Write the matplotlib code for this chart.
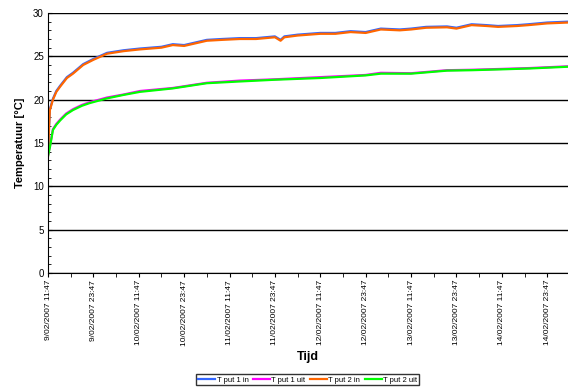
import matplotlib
matplotlib.use("Agg")
import matplotlib.pyplot as plt
import matplotlib.ticker as mticker
import numpy as np

plt.rcParams.update({"font.family": ["Liberation Sans", "DejaVu Sans"]})

# hours since 9/02/2007 11:47
T_IN = [0, 0.3, 0.5, 1.3, 2.2, 3.2, 5, 6.6, 9.3, 12, 15.6, 20, 24.3, 30, 33, 36,
        40, 42, 46, 50.7, 55, 60, 61.5, 62.5, 66, 72, 76, 80, 84, 88, 93, 96,
        100, 105.5, 108, 112, 116, 119, 124, 127, 132, 137.5]
PUT2_IN = [13.5, 17.0, 18.8, 20.0, 20.9, 21.5, 22.5, 23.0, 24.0, 24.6, 25.3, 25.6,
           25.8, 26.0, 26.3, 26.2, 26.6, 26.8, 26.9, 27.0, 27.0, 27.2, 26.8, 27.2,
           27.4, 27.6, 27.6, 27.8, 27.7, 28.1, 28.0, 28.1, 28.3, 28.35, 28.2, 28.6,
           28.5, 28.4, 28.5, 28.6, 28.8, 28.9]
PUT1_IN = [13.6, 17.1, 18.9, 20.1, 21.0, 21.6, 22.6, 23.1, 24.1, 24.7, 25.4, 25.7,
           25.9, 26.1, 26.4, 26.3, 26.7, 26.9, 27.0, 27.1, 27.1, 27.3, 26.9, 27.3,
           27.5, 27.7, 27.7, 27.9, 27.8, 28.2, 28.1, 28.2, 28.4, 28.45, 28.3, 28.7,
           28.6, 28.5, 28.6, 28.7, 28.9, 29.0]

T_UIT = [0, 0.5, 1.3, 2.2, 3.2, 4.8, 6.6, 9, 11, 15.6, 20, 24.3, 33, 42, 50.7,
         60, 72, 84, 88, 96, 105.5, 112, 120, 127.4, 137.5]
PUT2_UIT = [13.5, 14.5, 16.5, 17.1, 17.6, 18.3, 18.8, 19.3, 19.6, 20.15, 20.55,
            20.9, 21.3, 21.9, 22.1, 22.3, 22.5, 22.8, 23.0, 23.0, 23.35, 23.4,
            23.5, 23.6, 23.8]
PUT1_UIT = [13.6, 14.6, 16.6, 17.2, 17.7, 18.4, 18.9, 19.4, 19.7, 20.25, 20.6,
            21.0, 21.35, 21.95, 22.2, 22.35, 22.6, 22.85, 23.1, 23.05, 23.4, 23.45,
            23.55, 23.65, 23.85]

TICK_LABELS = ["9/02/2007 11:47", "9/02/2007 23:47", "10/02/2007 11:47",
               "10/02/2007 23:47", "11/02/2007 11:47", "11/02/2007 23:47",
               "12/02/2007 11:47", "12/02/2007 23:47", "13/02/2007 11:47",
               "13/02/2007 23:47", "14/02/2007 11:47", "14/02/2007 23:47"]

fig = plt.figure(figsize=(5.68, 3.87), dpi=100)
ax = fig.add_axes([48 / 568, 1 - 273 / 387, 520 / 568, 260 / 387])

ax.plot(T_IN, PUT1_IN, color="#3366FF", lw=1.6, label="T put 1 in")
ax.plot(T_UIT, PUT1_UIT, color="#FF00FF", lw=1.6, label="T put 1 uit")
ax.plot(T_IN, PUT2_IN, color="#FF6600", lw=1.6, label="T put 2 in")
ax.plot(T_UIT, PUT2_UIT, color="#00FF00", lw=1.6, label="T put 2 uit")

ax.set_xlim(0, 137.5)
ax.set_ylim(0, 30)
ax.set_xticks(np.arange(len(TICK_LABELS)) * 12)
ax.set_xticklabels(TICK_LABELS, rotation=90, fontsize=6)
ax.xaxis.set_minor_locator(mticker.MultipleLocator(6))
ax.tick_params(axis="x", which="both", direction="out", length=3, pad=2)

ax.set_yticks(range(0, 31, 5))
ax.tick_params(axis="y", labelsize=7, direction="in", length=3, pad=3)
ax.yaxis.set_minor_locator(mticker.MultipleLocator(1))
ax.tick_params(axis="y", which="minor", direction="in", length=2)

ax.yaxis.grid(True, color="black", lw=1)
ax.set_axisbelow(True)
for s in ("top", "right"):
    ax.spines[s].set_visible(False)

ax.set_ylabel("Temperatuur [°C]", fontsize=8, fontweight="bold", labelpad=6)
ax.set_xlabel("Tijd", fontsize=9, fontweight="bold", labelpad=4)

fig.legend(loc="lower center", bbox_to_anchor=(0.542, 0.0), ncol=4, fontsize=5.5,
           frameon=True, fancybox=False, edgecolor="black", handlelength=2.2,
           handletextpad=0.2, columnspacing=0.6, borderpad=0.25, borderaxespad=0.2)

fig.savefig("out.png", dpi=100)
